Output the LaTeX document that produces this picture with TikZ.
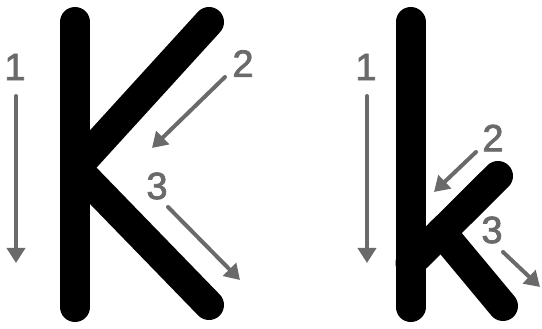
\documentclass[tikz,border=0pt]{standalone}
\usepackage{fontspec}
\setmainfont{Liberation Sans}
\newfontfamily\numfont[FakeBold=2]{Liberation Sans}
\usetikzlibrary{arrows.meta}
\definecolor{arrowgray}{RGB}{106,106,106}

\begin{document}
\begin{tikzpicture}[
    x=1pt, y=-1pt,
    stroke/.style={
        line width=30pt,
        line cap=round,
        draw=black
    },
    arrow/.style={
        -{Triangle[length=15pt,width=18pt]},
        line width=4pt,
        line cap=round,
        draw=arrowgray
    },
    num/.style={
        text=arrowgray,
        inner sep=0pt,
        font=\numfont\fontsize{38}{38}\selectfont
    }
]
    \useasboundingbox (0,0) rectangle (542,329);

    % capital K
    \draw[stroke] (75,22) -- (75,307);
    \draw[stroke] (209,22) -- (75,169);
    \draw[stroke] (75,167) -- (209,305);

    % small k
    \draw[stroke] (410.5,22) -- (410.5,307);
    \draw[stroke] (498,176) -- (410.5,263);
    \draw[stroke] (441.4,232) -- (503,306);

    % stroke 1, both letters
    \foreach \x/\name in {16/K,367/k}{
        \node[num] (one\name) at (\x-1,67) {1};
        \coordinate (s\name a) at (\x,96);
        \coordinate (e\name a) at (\x,263);
        \draw[arrow] (s\name a) -- (e\name a);
    }

    % strokes 2 and 3, capital K
    \node[num] (twoK) at (243,63.5) {2};
    \coordinate (sKb) at (225,77);
    \coordinate (eKb) at (152,148);
    \draw[arrow] (sKb) -- (eKb);

    \node[num] (threeK) at (157,186) {3};
    \coordinate (sKc) at (168,207);
    \coordinate (eKc) at (240,280);
    \draw[arrow] (sKc) -- (eKc);

    % strokes 2 and 3, small k
    \node[num] (twok) at (493,138) {2};
    \coordinate (skb) at (476,152);
    \coordinate (ekb) at (434,192);
    \draw[arrow] (skb) -- (ekb);

    \node[num] (threek) at (492,230) {3};
    \coordinate (skc) at (503,252);
    \coordinate (ekc) at (540,287);
    \draw[arrow] (skc) -- (ekc);

\end{tikzpicture}
\end{document}
